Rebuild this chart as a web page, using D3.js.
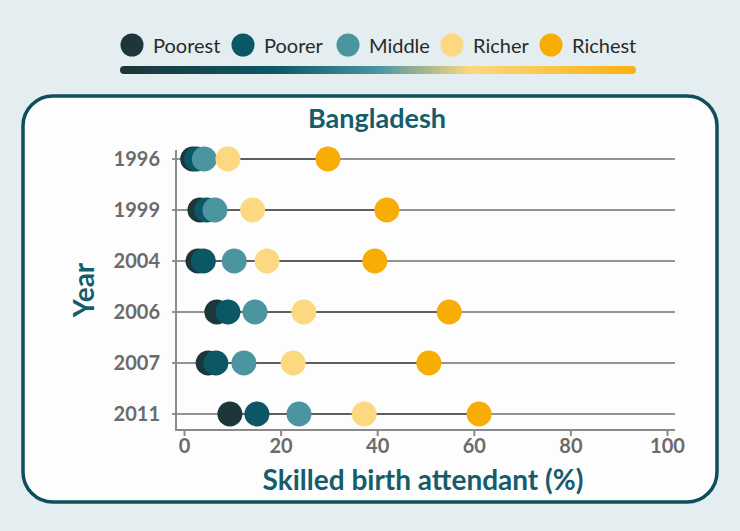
<!DOCTYPE html>
<html>
<head>
<meta charset="utf-8">
<title>Bangladesh</title>
<script src="https://cdn.jsdelivr.net/npm/d3@7"></script>
<style>
  body { margin: 0; background: #e4edf0; }
  svg { display: block; font-family: Lato, "Open Sans", sans-serif; }
</style>
</head>
<body>
<div id="chart"></div>
<script>
var years = ["1996", "1999", "2004", "2006", "2007", "2011"];
var groups = ["Poorest", "Poorer", "Middle", "Richer", "Richest"];
var colors = ["#1c3639", "#0c5766", "#4b95a1", "#fcd880", "#f8ad05"];
var poorest = [1.8, 3.3, 2.9, 6.8, 5.0, 9.5];
var poorer  = [2.6, 4.7, 4.0, 9.1, 6.6, 15.1];
var middle  = [4.2, 6.4, 10.4, 14.7, 12.4, 23.8];
var richer  = [9.1, 14.2, 17.2, 24.8, 22.6, 37.3];
var richest = [29.8, 42.0, 39.5, 54.9, 50.7, 61.1];
var xTicks = [0, 20, 40, 60, 80, 100];

var series = [poorest, poorer, middle, richer, richest];

var W = 740, H = 531;
var svg = d3.select("#chart").append("svg")
    .attr("width", W)
    .attr("height", H);

svg.append("rect").attr("width", W).attr("height", H).attr("fill", "#e4edf0");

// legend
var legendX = [132, 243, 348, 452, 551];
var legend = svg.append("g");
groups.forEach(function(g, i) {
  legend.append("circle")
    .attr("cx", legendX[i]).attr("cy", 45).attr("r", 11.5)
    .attr("fill", colors[i]);
  legend.append("text")
    .attr("x", legendX[i] + 21).attr("y", 53)
    .attr("font-size", 20)
    .attr("fill", "#2a2a2a")
    .text(g);
});

var grad = svg.append("defs").append("linearGradient")
    .attr("id", "lg").attr("x1", "0%").attr("x2", "100%");
[[0, "#1c3639"], [0.3, "#0c5766"], [0.5, "#4b95a1"], [0.68, "#fcd880"], [1, "#f8b10f"]]
  .forEach(function(s) {
    grad.append("stop").attr("offset", s[0]).attr("stop-color", s[1]);
  });
svg.append("rect")
  .attr("x", 120).attr("y", 66).attr("width", 516).attr("height", 8)
  .attr("rx", 4).attr("fill", "url(#lg)");

// panel
svg.append("rect")
  .attr("x", 23).attr("y", 96).attr("width", 694).attr("height", 406)
  .attr("rx", 30)
  .attr("fill", "#fdfdfd")
  .attr("stroke", "#0f4f5c").attr("stroke-width", 3.5);

svg.append("text")
  .attr("x", 377).attr("y", 128)
  .attr("text-anchor", "middle")
  .attr("font-size", 27).attr("font-weight", "bold")
  .attr("fill", "#155d6a")
  .text("Bangladesh");

var x = d3.scaleLinear().domain([0, 100]).range([184, 667]);
var y = d3.scalePoint().domain(years).range([159, 414]);

var gridL = 172, gridR = 675;

// row lines
svg.append("g").selectAll("line")
  .data(years).join("line")
  .attr("x1", gridL).attr("x2", gridR)
  .attr("y1", function(d) { return y(d); })
  .attr("y2", function(d) { return y(d); })
  .attr("stroke", "#939393").attr("stroke-width", 2);

svg.append("g").selectAll("line")
  .data(years).join("line")
  .attr("x1", function(d, i) { return x(poorest[i]); })
  .attr("x2", function(d, i) { return x(richest[i]); })
  .attr("y1", function(d) { return y(d); })
  .attr("y2", function(d) { return y(d); })
  .attr("stroke", "#5e5e5e").attr("stroke-width", 2);

// axes
svg.append("line")
  .attr("x1", 176).attr("x2", 176).attr("y1", 150).attr("y2", 431)
  .attr("stroke", "#8a8a8a").attr("stroke-width", 2);
svg.append("line")
  .attr("x1", 175).attr("x2", gridR).attr("y1", 430).attr("y2", 430)
  .attr("stroke", "#8a8a8a").attr("stroke-width", 2);

var xAxis = svg.append("g")
  .attr("transform", "translate(0,430)")
  .call(d3.axisBottom(x).tickValues(xTicks).tickSize(6).tickPadding(3));
xAxis.select(".domain").remove();
xAxis.selectAll("line").attr("stroke", "#8a8a8a").attr("stroke-width", 2);
xAxis.selectAll("text")
  .attr("font-family", "Lato, sans-serif")
  .attr("font-size", 20).attr("font-weight", "bold").attr("fill", "#6b6b6b");

svg.append("g").selectAll("text")
  .data(years).join("text")
  .attr("x", 160)
  .attr("y", function(d) { return y(d) + 7; })
  .attr("text-anchor", "end")
  .attr("font-size", 20).attr("font-weight", "bold")
  .attr("fill", "#6b6b6b")
  .text(function(d) { return d; });

// dots
series.forEach(function(vals, k) {
  svg.append("g").selectAll("circle")
    .data(vals).join("circle")
    .attr("cx", function(d) { return x(d); })
    .attr("cy", function(d, i) { return y(years[i]); })
    .attr("r", 12.5)
    .attr("fill", colors[k]);
});

svg.append("text")
  .attr("x", 423).attr("y", 490)
  .attr("text-anchor", "middle")
  .attr("font-size", 28).attr("font-weight", "bold")
  .attr("fill", "#155d6a")
  .text("Skilled birth attendant (%)");

svg.append("text")
  .attr("transform", "translate(94,290) rotate(-90)")
  .attr("text-anchor", "middle")
  .attr("font-size", 28).attr("font-weight", "bold")
  .attr("fill", "#155d6a")
  .text("Year");
</script>
</body>
</html>
